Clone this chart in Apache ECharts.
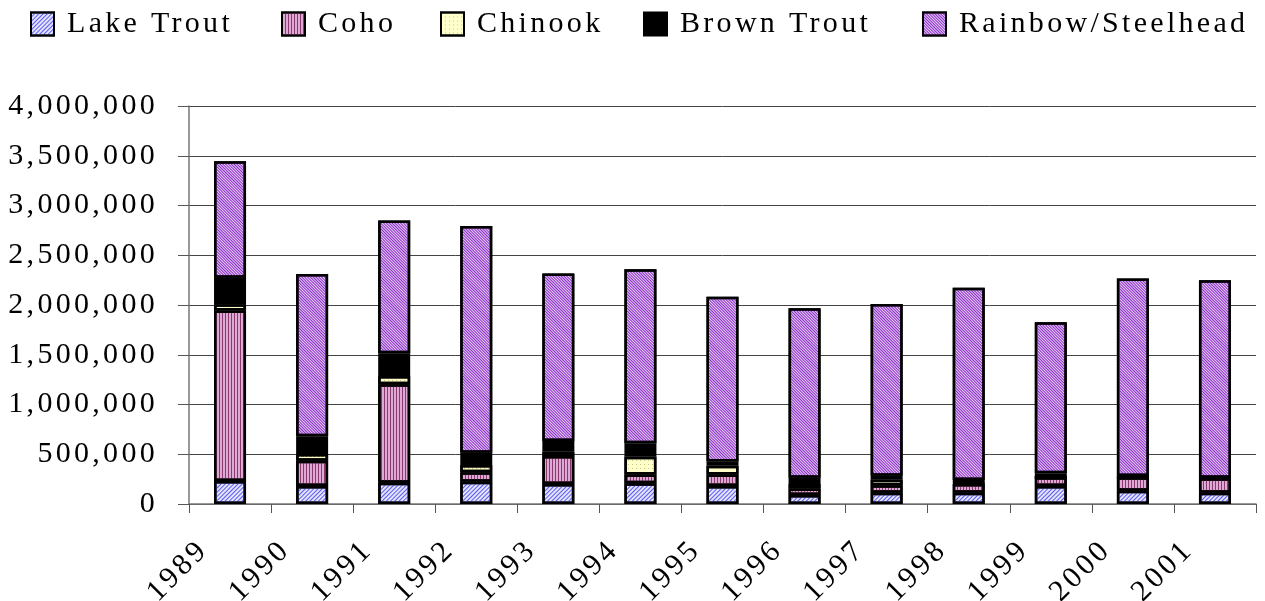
<!DOCTYPE html>
<html>
<head>
<meta charset="utf-8">
<title>Fish stocked by year</title>
<script src="https://cdn.jsdelivr.net/npm/echarts@6/dist/echarts.min.js"></script>
<style>
  html, body { margin: 0; padding: 0; background: #fff; }
  #chart { width: 1265px; height: 601px; }
</style>
</head>
<body>
<div id="chart"></div>
<script>
  const years = ['1989', '1990', '1991', '1992', '1993', '1994', '1995',
                 '1996', '1997', '1998', '1999', '2000', '2001'];
  const lakeTrout = [231000, 181000, 214000, 224000, 201000, 208000, 181000,
                     90000, 114000, 114000, 181000, 134000, 114000];
  const coho = [1713000, 254000, 989000, 95000, 281000, 89000, 116000,
                67000, 74000, 87000, 87000, 134000, 145000];
  const chinook = [64000, 67000, 84000, 73000, 44000, 178000, 88000,
                   44000, 59000, 5000, 0, 0, 0];
  const brownTrout = [267000, 180000, 228000, 124000, 108000, 135000, 41000,
                      63000, 37000, 36000, 41000, 13000, 5000];
  const rainbow = [1170000, 1629000, 1333000, 2278000, 1683000, 1749000, 1658000,
                   1703000, 1726000, 1932000, 1518000, 1986000, 1986000];
  const yTicks = [0, 500000, 1000000, 1500000, 2000000, 2500000, 3000000, 3500000, 4000000];

  const font = 'Liberation Serif';

  function bar(name, data, color, decal) {
    return {
      name: name,
      type: 'bar',
      stack: 'fish',
      barWidth: 32,
      data: data,
      itemStyle: {
        color: color,
        borderColor: '#000',
        borderWidth: 2.5,
        decal: decal
      }
    };
  }

  function legendAt(name, left) {
    return {
      data: [name],
      left: left,
      top: 9,
      padding: 0,
      icon: 'rect',
      itemWidth: 23,
      itemHeight: 23,
      textStyle: {
        fontFamily: font,
        fontSize: 30,
        color: '#000',
        padding: [0, 0, 0, 8]
      }
    };
  }

  const chart = echarts.init(document.getElementById('chart'));

  const option = {
    animation: false,
    backgroundColor: '#fff',
    legend: [
      legendAt('Lake Trout', 30),
      legendAt('Coho', 281),
      legendAt('Chinook', 440),
      legendAt('Brown Trout', 643),
      legendAt('Rainbow/Steelhead', 922)
    ],
    grid: {
      left: 189,
      right: 9,
      top: 106,
      bottom: 97,
      outerBoundsMode: 'none'
    },
    xAxis: {
      type: 'category',
      data: years,
      axisLine: { lineStyle: { color: '#777', width: 1.5 } },
      axisTick: { show: true, length: 9, lineStyle: { color: '#555' } },
      axisLabel: {
        rotate: 45,
        interval: 0,
        margin: 15,
        padding: [0, 37, 0, 0],
        fontFamily: font,
        fontSize: 30,
        color: '#000'
      }
    },
    yAxis: {
      type: 'value',
      min: yTicks[0],
      max: yTicks[yTicks.length - 1],
      interval: yTicks[1] - yTicks[0],
      axisLine: { show: true, lineStyle: { color: '#777', width: 1.5 } },
      axisTick: { show: true, length: 11, lineStyle: { color: '#555' } },
      splitLine: { lineStyle: { color: '#444', width: 1 } },
      axisLabel: {
        margin: 31,
        padding: [8, 0, 0, 0],
        fontFamily: font,
        fontSize: 30,
        color: '#000',
        formatter: function (v) { return v.toLocaleString('en-US'); }
      }
    },
    series: [
      bar('Lake Trout', lakeTrout, '#e4e4ff', {
        symbol: 'rect', symbolSize: 1, color: '#5a5aee',
        dashArrayX: [1, 0], dashArrayY: [1, 2], rotation: -Math.PI / 4
      }),
      bar('Coho', coho, '#dcaad4', {
        symbol: 'rect', symbolSize: 1, color: '#8c3a6e',
        dashArrayX: [1, 2], dashArrayY: [1, 0], rotation: 0
      }),
      bar('Chinook', chinook, '#ffffcc', {
        symbol: 'rect', symbolSize: 1, color: '#c8c880',
        dashArrayX: [1, 3], dashArrayY: [1, 3], rotation: 0
      }),
      bar('Brown Trout', brownTrout, '#000', null),
      bar('Rainbow/Steelhead', rainbow, '#e6ccf6', {
        symbol: 'rect', symbolSize: 1, color: '#8a2fc4',
        dashArrayX: [1, 0], dashArrayY: [1, 1], rotation: Math.PI / 4
      })
    ]
  };

  chart.setOption(option);

  // the old spreadsheet look has spaced-out letters; canvas can do that directly
  const canvas = chart.getDom().querySelector('canvas');
  if (canvas) {
    const ctx = canvas.getContext('2d');
    if ('letterSpacing' in ctx) {
      ctx.letterSpacing = '3.3px';
      chart.setOption(option, true);
    }
  }
</script>
</body>
</html>
